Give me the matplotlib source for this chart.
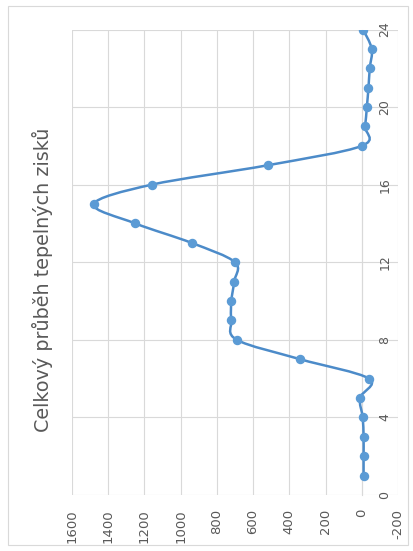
import matplotlib
matplotlib.use("Agg")
import matplotlib.pyplot as plt
import numpy as np
from matplotlib.path import Path
from matplotlib.patches import PathPatch, Rectangle

plt.rcParams["axes.unicode_minus"] = False

# data (hour of day -> heat gain)
hodiny = list(range(1, 25))
zisky = [-10, -10, -10, -5, 10, -40, 340, 690, 720, 720, 705, 700,
         940, 1250, 1480, 1160, 520, 0, -18, -28, -37, -44, -55, -7]
hour_ticks = [0, 4, 8, 12, 16, 20, 24]
value_ticks = list(range(-200, 1601, 200))
titulek = "Celkový průběh tepelných zisků"

modra = "#5b9bd5"
modra_cara = "#4c8bc9"
seda_text = "#595959"
seda_mrizka = "#d9d9d9"

fig = plt.figure(figsize=(4.14, 5.51), dpi=100)
fig.patches.append(Rectangle((8/414, 6/551), 1 - 14/414, 1 - 12/551,
                             transform=fig.transFigure, fill=False,
                             edgecolor=seda_mrizka, linewidth=0.8))

# chart is turned on its side: values go horizontally (reversed), hours go up
ax = fig.add_axes([72/414, 1 - 495/551, (398 - 72)/414, (495 - 29.5)/551])

# smooth line like excel (bezier through the points)
pts = np.column_stack([zisky, hodiny]).astype(float)
ext = np.vstack([pts[0], pts, pts[-1]])
verts = [tuple(pts[0])]
codes = [Path.MOVETO]
for i in range(1, len(ext) - 2):
    p0, p1, p2, p3 = ext[i - 1], ext[i], ext[i + 1], ext[i + 2]
    c1 = p1 + (p2 - p0) / 6
    c2 = p2 - (p3 - p1) / 6
    verts += [tuple(c1), tuple(c2), tuple(p2)]
    codes += [Path.CURVE4] * 3
ax.add_patch(PathPatch(Path(verts, codes), facecolor="none",
                       edgecolor=modra_cara, linewidth=1.8, zorder=3))
ax.plot(zisky, hodiny, linestyle="none", marker="o", markersize=5.8,
        color=modra, zorder=4)

ax.set_xlim(1600, -200)
ax.set_ylim(0, 24)
ax.set_xticks(value_ticks)
ax.set_yticks(hour_ticks)
ax.grid(True, color=seda_mrizka, linewidth=0.8)
ax.set_axisbelow(True)

for s in ["left", "top", "bottom"]:
    ax.spines[s].set_visible(False)
ax.spines["right"].set_position(("data", 0))
ax.spines["right"].set_color(seda_mrizka)
ax.spines["right"].set_linewidth(0.8)
ax.yaxis.tick_right()

ax.tick_params(axis="x", length=0, pad=10, labelsize=9.5, labelcolor=seda_text,
               labelrotation=90)
ax.tick_params(axis="y", length=0, pad=12, labelsize=9, labelcolor=seda_text,
               labelrotation=90)
for lab in ax.get_yticklabels():
    lab.set_verticalalignment("center")

fig.text(43/414, 1 - 280/551, titulek, rotation=90, ha="center", va="center",
         fontsize=13.8, color=seda_text)

fig.savefig("out.png", dpi=100)
